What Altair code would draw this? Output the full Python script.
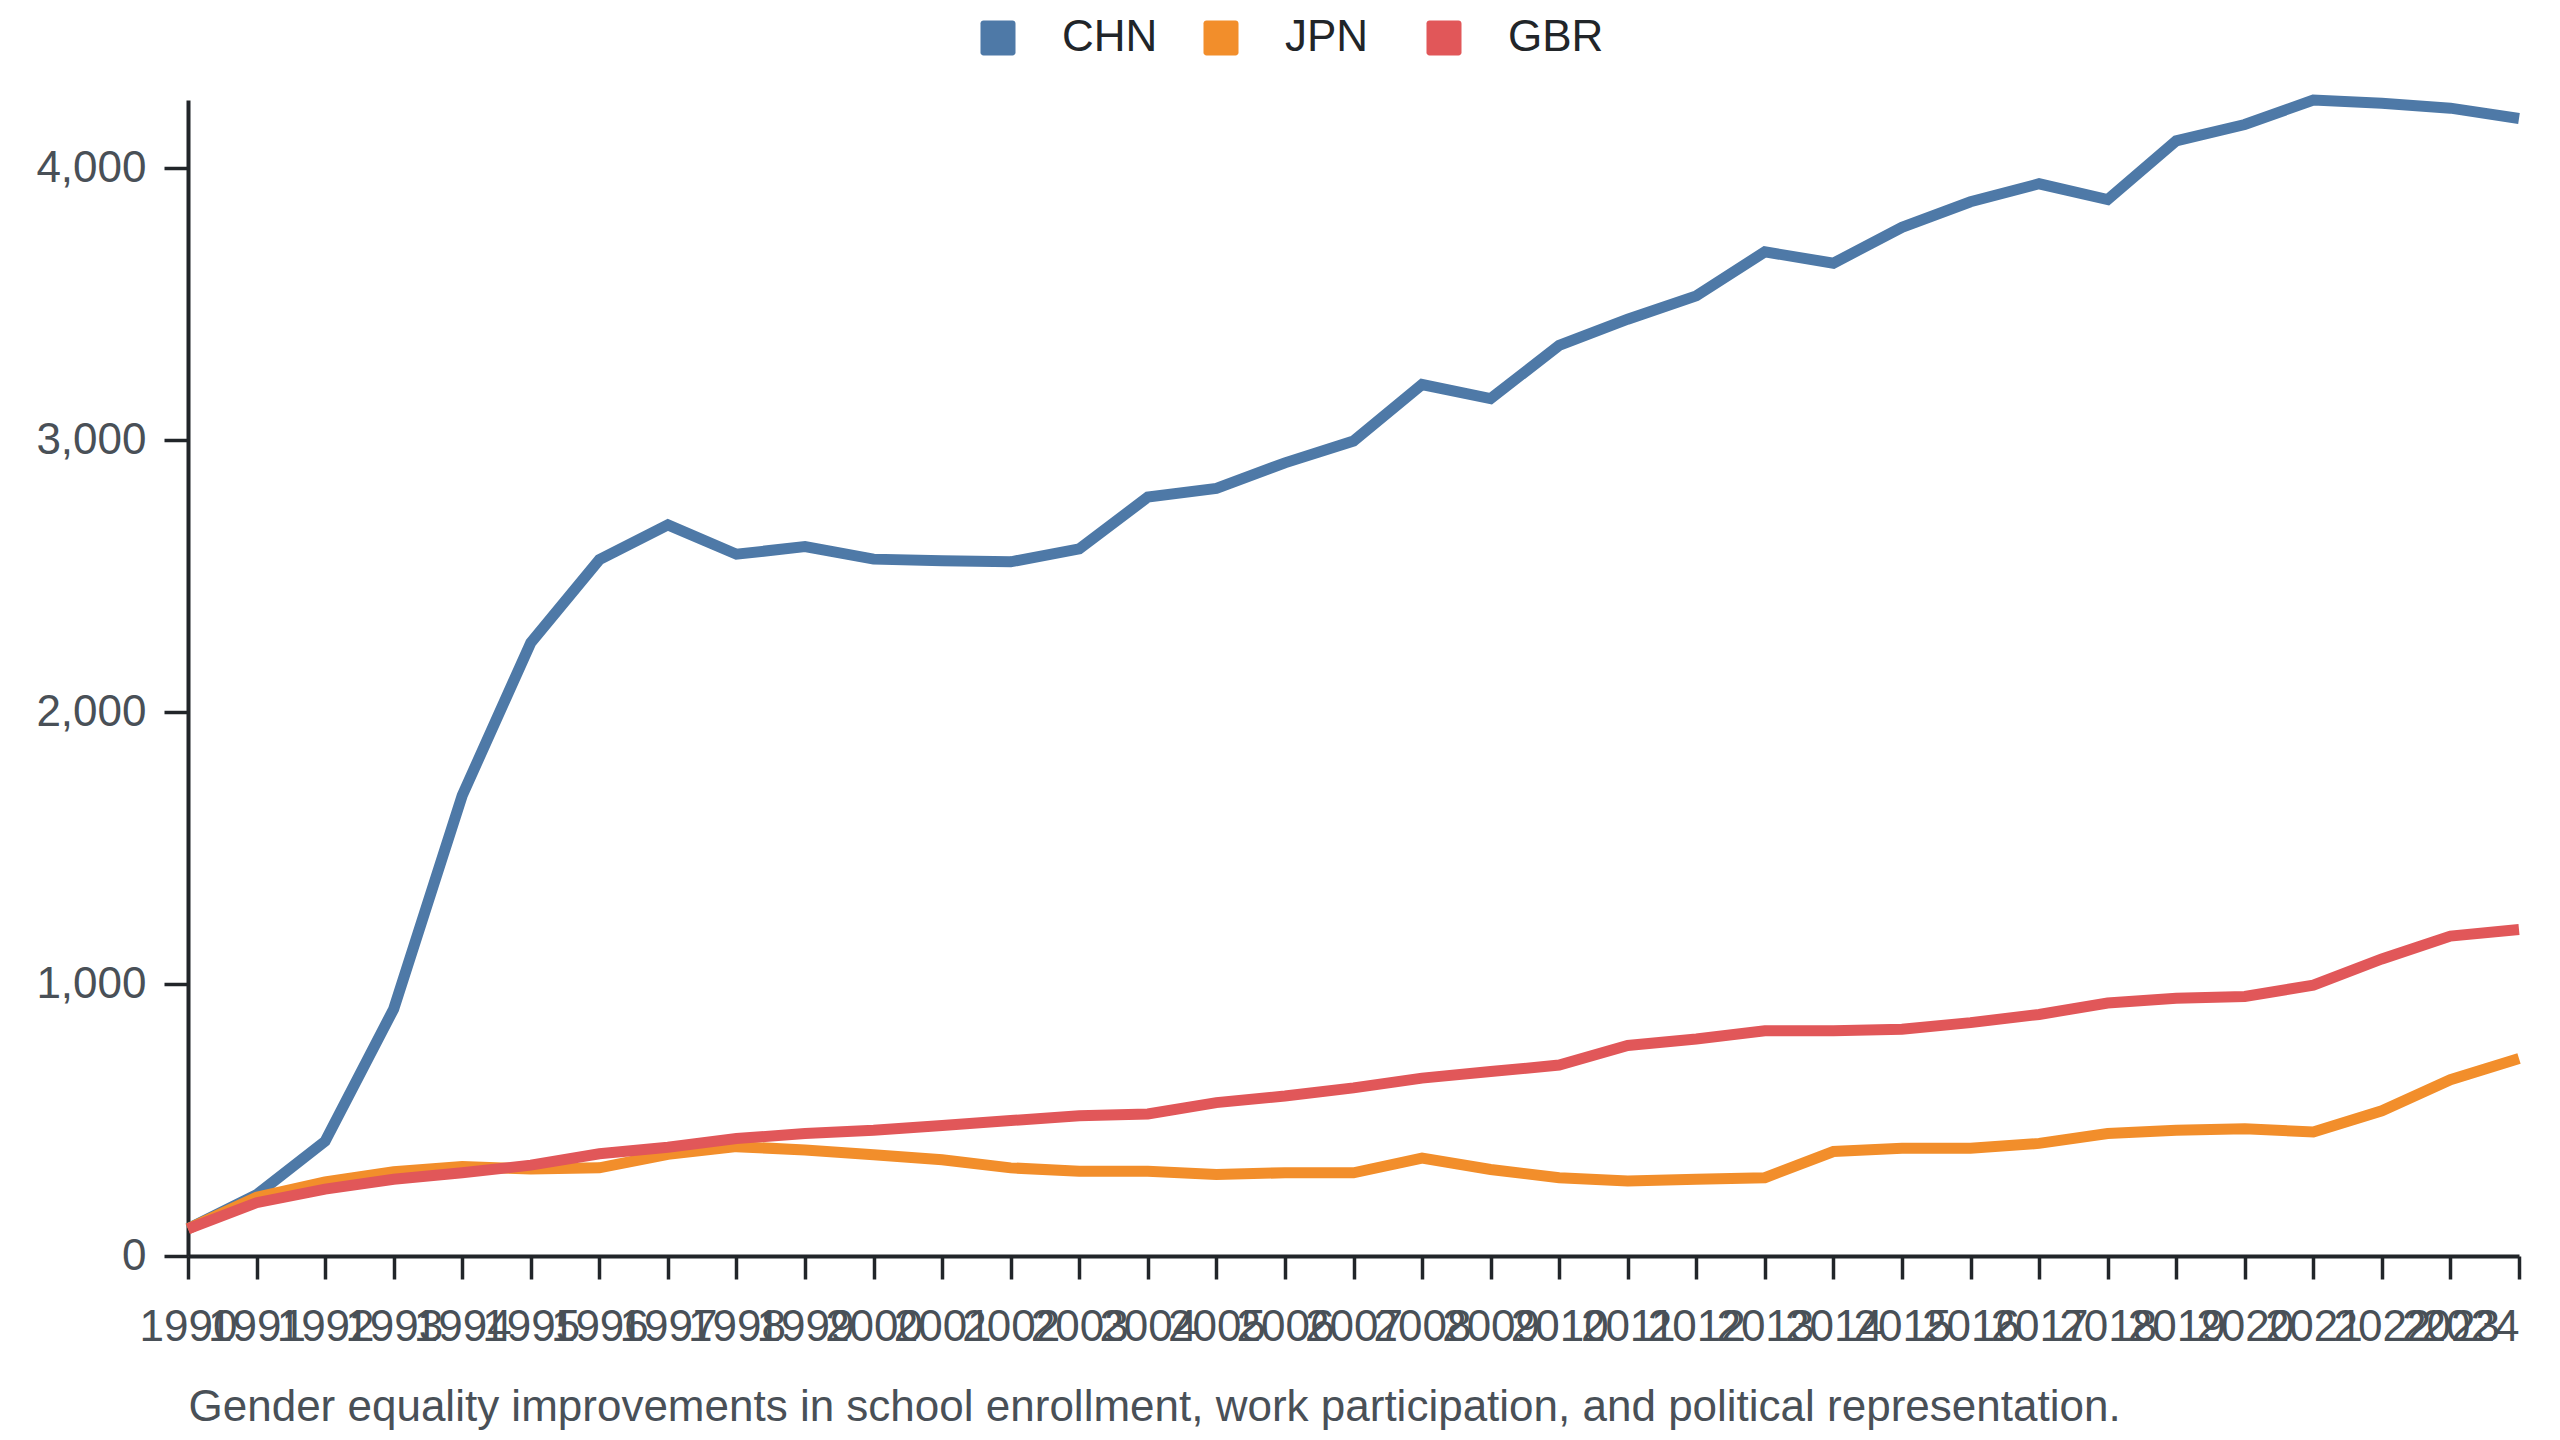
import altair as alt
import pandas as pd

years = list(range(1990, 2025))
countries = ["CHN", "JPN", "GBR"]
colors = ["#4e79a7", "#f28e2b", "#e15759"]

chn = [100, 225, 422, 908, 1693, 2255, 2560, 2688, 2580, 2608, 2562, 2556,
       2552, 2600, 2790, 2822, 2916, 2996, 3204, 3152, 3348, 3444, 3530,
       3692, 3650, 3782, 3876, 3942, 3884, 4100, 4160, 4250, 4238, 4220, 4182]
jpn = [100, 216, 272, 310, 329, 320, 324, 374, 402, 390, 372, 354, 324, 312,
       312, 300, 306, 306, 360, 318, 288, 276, 282, 288, 384, 396, 396, 414,
       450, 462, 468, 456, 534, 648, 726]
gbr = [100, 196, 246, 282, 306, 334, 376, 400, 432, 450, 462, 480, 498, 516,
       522, 564, 588, 618, 654, 678, 702, 774, 798, 828, 828, 834, 858, 888,
       930, 948, 954, 996, 1092, 1176, 1200]

caption = ("Gender equality improvements in school enrollment, work "
           "participation, and political representation.")

rows = []
for country, series in zip(countries, [chn, jpn, gbr]):
    for year, value in zip(years, series):
        rows.append({"year": year, "country": country, "value": value})
df = pd.DataFrame(rows)

FONT = "Liberation Sans"
INK = "#212529"
GREY = "#495057"
# rounded square for the legend keys
ROUNDED = ("M-0.83,-1L0.83,-1A0.17,0.17,0,0,1,1,-0.83L1,0.83"
           "A0.17,0.17,0,0,1,0.83,1L-0.83,1A0.17,0.17,0,0,1,-1,0.83"
           "L-1,-0.83A0.17,0.17,0,0,1,-0.83,-1Z")

x = alt.X(
    "year:O",
    scale=alt.Scale(type="point", padding=0),
    axis=alt.Axis(
        title=caption, labelAngle=0, labelOverlap=False, labelFontSize=44,
        labelAlign=alt.ExprRef(
            expr=f"datum.label == '{years[-1]}' ? 'right' : 'center'"),
        labelColor=GREY, labelPadding=26, tickSize=23, tickWidth=3.5,
        tickColor=INK, domainColor=INK, domainWidth=4, grid=False,
        titleFontSize=44, titleFontWeight="normal", titleColor=GREY,
        titleAnchor="start", titleAlign="left", titleBaseline="top",
        titleX=0, titleY=129,
    ),
)
y = alt.Y(
    "value:Q",
    scale=alt.Scale(zero=True, nice=False),
    axis=alt.Axis(
        title=None, format=",d", tickCount=5, labelFontSize=44,
        labelColor=GREY, labelPadding=18, tickSize=24, tickWidth=3.5,
        tickColor=INK, domainColor=INK, domainWidth=4, grid=False,
    ),
)
color_scale = alt.Scale(domain=countries, range=colors)

keys = alt.Chart(df).mark_square(opacity=0).encode(
    x=x, y=y,
    color=alt.Color(
        "country:N", scale=color_scale,
        legend=alt.Legend(
            title=None, orient="none", legendX=788, legendY=-84,
            direction="horizontal", symbolType=ROUNDED, symbolSize=1225,
            symbolOpacity=1, symbolStrokeWidth=0, labelFontSize=44,
            labelColor=INK, labelOffset=42, columnPadding=41,
            gridAlign="all", padding=0, labelLimit=400,
        ),
    ),
)

lines = alt.Chart(df).mark_line(strokeWidth=11).encode(
    x=x, y=y,
    color=alt.Color("country:N", scale=color_scale, legend=None),
)

chart = (
    alt.layer(keys, lines)
    .properties(
        width=2331, height=1156,
        autosize=alt.AutoSizeParams(type="none"),
        padding={"left": 180, "top": 92, "right": 33, "bottom": 176},
    )
    .configure(font=FONT)
    .configure_view(stroke=None)
)

chart.save("out.html", embed_options={"renderer": "svg", "actions": False})
